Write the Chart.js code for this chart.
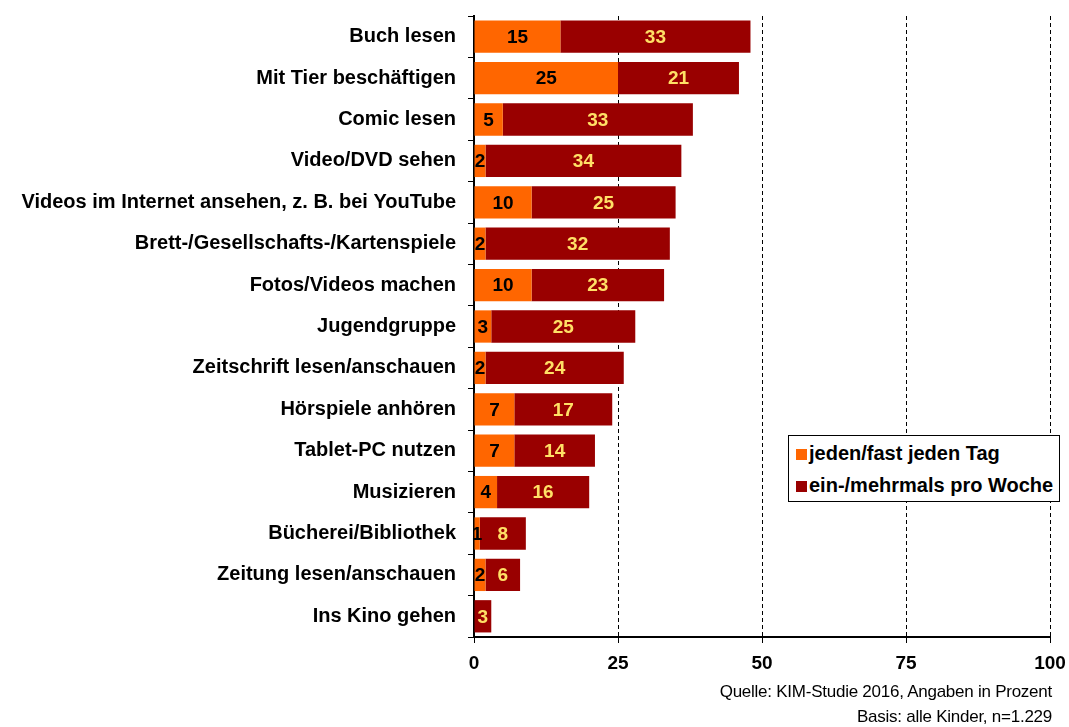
<!DOCTYPE html>
<html>
<head>
<meta charset="utf-8">
<script src="https://cdn.jsdelivr.net/npm/chart.js@4/dist/chart.umd.min.js"></script>
<style>
  body { margin: 0; background: #fff; }
  #wrap { position: relative; width: 1069px; height: 727px; }
  #legend {
    position: absolute; left: 788px; top: 435px; width: 272px; height: 67px;
    border: 1.5px solid #000; background: #fff; box-sizing: border-box;
    font: bold 20px "Liberation Sans", Arial, sans-serif; color: #000;
  }
  #legend div { position: absolute; left: 7px; white-space: nowrap; line-height: 22px; }
  #legend span { display: inline-block; width: 11px; height: 11px; margin-right: 2px; vertical-align: 0px; }
  .src { position: absolute; right: 17px; font: 17px "Liberation Sans", Arial, sans-serif; letter-spacing: -0.25px; color: #000; line-height: 20px; }
</style>
</head>
<body>
<div id="wrap">
  <canvas id="chart" width="1069" height="727"></canvas>
  <div id="legend">
    <div style="top:6px"><span style="background:#ff6600"></span>jeden/fast jeden Tag</div>
    <div style="top:38px"><span style="background:#990000"></span>ein-/mehrmals pro Woche</div>
  </div>
  <div class="src" style="top:682px">Quelle: KIM-Studie 2016, Angaben in Prozent</div>
  <div class="src" style="top:707px">Basis: alle Kinder, n=1.229</div>
</div>
<script>
// categories and values (in percent)
const activities = [
  'Buch lesen', 'Mit Tier beschäftigen', 'Comic lesen', 'Video/DVD sehen',
  'Videos im Internet ansehen, z. B. bei YouTube', 'Brett-/Gesellschafts-/Kartenspiele',
  'Fotos/Videos machen', 'Jugendgruppe', 'Zeitschrift lesen/anschauen', 'Hörspiele anhören',
  'Tablet-PC nutzen', 'Musizieren', 'Bücherei/Bibliothek', 'Zeitung lesen/anschauen', 'Ins Kino gehen'
]
const daily = [15, 25, 5, 2, 10, 2, 10, 3, 2, 7, 7, 4, 1, 2, 0]
const weekly = [33, 21, 33, 34, 25, 32, 23, 25, 24, 17, 14, 16, 8, 6, 3]
const xTicks = [0, 25, 50, 75, 100]

const ctx = document.getElementById('chart').getContext('2d')

// draw the numbers in the middle of each segment
const barLabels = {
  id: 'barLabels',
  afterDatasetsDraw(chart) {
    const c = chart.ctx
    c.save()
    c.font = 'bold 19px "Liberation Sans", Arial, sans-serif'
    c.textAlign = 'center'
    c.textBaseline = 'middle'
    chart.data.datasets.forEach((ds, i) => {
      const meta = chart.getDatasetMeta(i)
      meta.data.forEach((bar, j) => {
        const v = ds.data[j]
        if (!v) return
        c.fillStyle = ds.labelColor
        c.fillText(String(v), (bar.x + bar.base) / 2, bar.y + 1)
      })
    })
    c.restore()
  }
}

new Chart(ctx, {
  type: 'bar',
  data: {
    labels: activities,
    datasets: [
      { label: 'jeden/fast jeden Tag', data: daily, backgroundColor: '#ff6600', labelColor: '#000' },
      { label: 'ein-/mehrmals pro Woche', data: weekly, backgroundColor: '#990000', labelColor: '#ffe066' }
    ]
  },
  options: {
    indexAxis: 'y',
    responsive: false,
    animation: false,
    layout: { padding: { top: 16, right: 19, bottom: 50, left: 0 } },
    datasets: { bar: { categoryPercentage: 1, barPercentage: 0.78 } },
    plugins: { legend: { display: false }, tooltip: { enabled: false } },
    scales: {
      x: {
        stacked: true,
        min: 0, max: 100,
        afterBuildTicks: (scale) => { scale.ticks = xTicks.map(v => ({ value: v })) },
        afterFit: (scale) => { scale.height = 40; scale.paddingLeft = 0; scale.paddingRight = 0 },
        grid: { color: '#000', lineWidth: 1, tickLength: 6, tickBorderDash: [], tickColor: '#000' },
        border: { display: true, color: '#000', width: 2, dash: [4, 3] },
        ticks: { color: '#000', padding: 9, font: { family: '"Liberation Sans", Arial, sans-serif', size: 19, weight: 'bold' } }
      },
      y: {
        stacked: true,
        afterFit: (scale) => { scale.width = 474; scale.paddingTop = 0; scale.paddingBottom = 0 },
        grid: { drawOnChartArea: false, tickLength: 6, color: '#000', lineWidth: 1 },
        border: { display: true, color: '#000', width: 2 },
        ticks: { color: '#000', padding: 12, font: { family: '"Liberation Sans", Arial, sans-serif', size: 20, weight: 'bold' } }
      }
    }
  },
  plugins: [barLabels]
})
</script>
</body>
</html>
